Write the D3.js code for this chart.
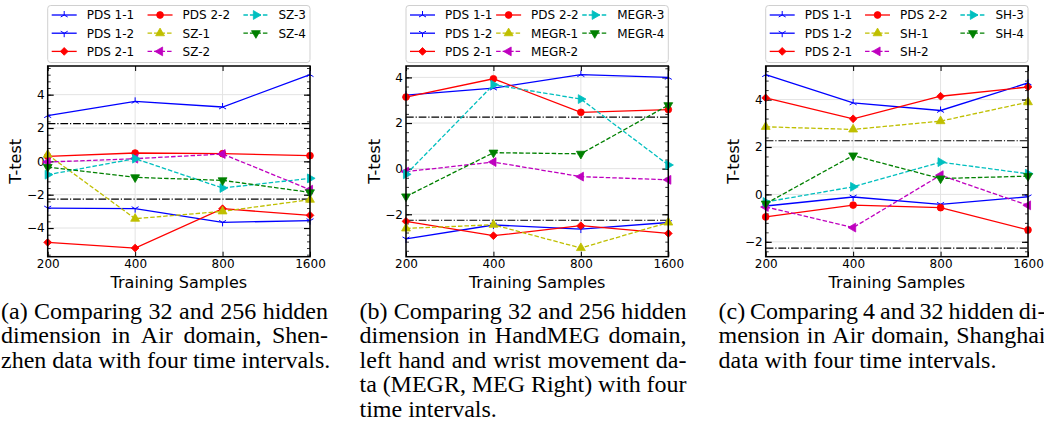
<!DOCTYPE html>
<html>
<head>
<meta charset="utf-8">
<script src="https://cdn.jsdelivr.net/npm/d3@7"></script>
<style>
  body { margin: 0; background: #fff; }
  svg { display: block; }
</style>
</head>
<body>
<svg id="chart"></svg>
<script>
// ---- data ----
const xTicks = [200, 400, 800, 1600];
const tCrit = 2.262;

const pdsNames = ['PDS 1-1', 'PDS 1-2', 'PDS 2-1', 'PDS 2-2'];
const szNames = ['SZ-1', 'SZ-2', 'SZ-3', 'SZ-4'];
const megrNames = ['MEGR-1', 'MEGR-2', 'MEGR-3', 'MEGR-4'];
const shNames = ['SH-1', 'SH-2', 'SH-3', 'SH-4'];

// one row per series, values at 200 / 400 / 800 / 1600 samples
const szValues = [
  [2.74, 3.60, 3.26, 5.20],
  [-2.80, -2.84, -3.66, -3.56],
  [-4.86, -5.20, -2.84, -3.24],
  [0.30, 0.50, 0.46, 0.34],
  [0.40, -3.44, -3.00, -2.30],
  [-0.04, 0.16, 0.44, -1.70],
  [-0.80, 0.16, -1.60, -1.02],
  [-0.34, -0.96, -1.14, -1.86]
];
const megrValues = [
  [3.22, 3.53, 4.12, 4.00],
  [-3.08, -2.47, -2.65, -2.36],
  [-2.31, -2.94, -2.50, -2.84],
  [3.14, 3.94, 2.47, 2.59],
  [-2.62, -2.46, -3.48, -2.36],
  [-0.13, 0.29, -0.35, -0.49],
  [-0.25, 3.68, 3.05, 0.16],
  [-1.22, 0.70, 0.65, 2.78]
];
const shValues = [
  [5.05, 3.86, 3.54, 4.70],
  [-0.49, -0.11, -0.42, -0.10],
  [4.07, 3.19, 4.14, 4.53],
  [-0.95, -0.45, -0.56, -1.50],
  [2.85, 2.74, 3.09, 3.89],
  [-0.53, -1.40, 0.81, -0.46],
  [-0.32, 0.32, 1.36, 0.87],
  [-0.39, 1.64, 0.67, 0.77]
];

const yTicksA = [-4, -2, 0, 2, 4];
const yTicksB = [-2, 0, 2, 4];
const yTicksC = [-2, 0, 2, 4];

const captions = [
  ['(a) Comparing 32 and 256 hidden', 'dimension in Air domain, Shen-', 'zhen data with four time intervals.'],
  ['(b) Comparing 32 and 256 hidden', 'dimension in HandMEG domain,', 'left hand and wrist movement da-',
   'ta (MEGR, MEG Right) with four', 'time intervals.'],
  ['(c) Comparing 4 and 32 hidden di-', 'mension in Air domain, Shanghai', 'data with four time intervals.']
];

// ---- styles ----
const colors = ['#0000ff', '#0000ff', '#ff0000', '#ff0000', '#bfbf00', '#bf00bf', '#00bfbf', '#008000'];
const markers = ['tri1', 'tri2', 'diamond', 'circle', 'up', 'left', 'right', 'down'];

const W = 1044, H = 432;
const plot = {top: 66, h: 190.7, w: 262.3};
const lefts = [47.7, 406, 765.7];
const sans = "'DejaVu Sans', sans-serif";

const svg = d3.select('#chart').attr('width', W).attr('height', H);

const panels = [
  {values: szValues, names: pdsNames.concat(szNames), yTicks: yTicksA},
  {values: megrValues, names: pdsNames.concat(megrNames), yTicks: yTicksB},
  {values: shValues, names: pdsNames.concat(shNames), yTicks: yTicksC}
];

function drawMarker(sel, type, color) {
  if (type === 'tri1' || type === 'tri2') {
    const s = type === 'tri1' ? 1 : -1;
    sel.append('path')
      .attr('d', `M0,0V${-4 * s}M0,0L3.5,${2 * s}M0,0L-3.5,${2 * s}`)
      .attr('stroke', color).attr('stroke-width', 1).attr('fill', 'none');
    return;
  }
  let sym, rot = 0, size = 34;
  if (type === 'circle') { sym = d3.symbolCircle; size = 36; }
  else if (type === 'diamond') { sym = d3.symbolSquare; rot = 45; size = 30; }
  else {
    sym = d3.symbolTriangle;
    rot = {up: 0, down: 180, left: -90, right: 90}[type];
  }
  sel.append('path')
    .attr('d', d3.symbol(sym, size)())
    .attr('transform', `rotate(${rot})`)
    .attr('fill', color).attr('stroke', color).attr('stroke-width', 0.8);
}

panels.forEach((p, pi) => {
  const g = svg.append('g').attr('transform', `translate(${lefts[pi]}, ${plot.top})`);

  const x = d3.scaleLog().base(2).domain([200, 1600]).range([0, plot.w]);
  const ext = d3.extent(p.values.flat().concat([tCrit, -tCrit]));
  const pad = (ext[1] - ext[0]) * 0.05;
  const y = d3.scaleLinear().domain([ext[0] - pad, ext[1] + pad]).range([plot.h, 0]);
  const minor = d3.range(Math.ceil((ext[0] - pad) / 0.4) * 0.4, ext[1] + pad, 0.4);

  // grid
  g.append('g').selectAll('line').data(xTicks).join('line')
    .attr('x1', d => x(d)).attr('x2', d => x(d))
    .attr('y1', 0).attr('y2', plot.h)
    .attr('stroke', '#e3e3e3').attr('stroke-width', 1);
  g.append('g').selectAll('line').data(p.yTicks).join('line')
    .attr('x1', 0).attr('x2', plot.w)
    .attr('y1', d => y(d)).attr('y2', d => y(d))
    .attr('stroke', '#e3e3e3').attr('stroke-width', 1);

  // axes
  const axB = g.append('g').attr('transform', `translate(0, ${plot.h})`)
    .call(d3.axisBottom(x).tickValues(xTicks).tickFormat(d3.format('d'))
      .tickSizeInner(-5).tickSizeOuter(0).tickPadding(3));
  const axT = g.append('g')
    .call(d3.axisTop(x).tickValues(xTicks).tickFormat('').tickSizeInner(-5).tickSizeOuter(0));
  const axL = g.append('g')
    .call(d3.axisLeft(y).tickValues(p.yTicks).tickFormat(d => d < 0 ? '\u2212' + Math.abs(d) : d)
      .tickSizeInner(-6).tickSizeOuter(0).tickPadding(3));
  const axR = g.append('g').attr('transform', `translate(${plot.w}, 0)`)
    .call(d3.axisRight(y).tickValues(p.yTicks).tickFormat('').tickSizeInner(-6).tickSizeOuter(0));
  const mL = g.append('g')
    .call(d3.axisLeft(y).tickValues(minor).tickFormat('').tickSizeInner(-3).tickSizeOuter(0));
  const mR = g.append('g').attr('transform', `translate(${plot.w}, 0)`)
    .call(d3.axisRight(y).tickValues(minor).tickFormat('').tickSizeInner(-3).tickSizeOuter(0));
  [axB, axT, axL, axR, mL, mR].forEach(a => {
    a.select('.domain').remove();
    a.selectAll('line').attr('stroke', '#000');
    a.selectAll('text').attr('font-family', sans).attr('font-size', 12).attr('fill', '#000');
  });
  axL.selectAll('line').attr('stroke-width', 1.2);
  axR.selectAll('line').attr('stroke-width', 1.2);
  mL.selectAll('line').attr('stroke-width', 0.8);
  mR.selectAll('line').attr('stroke-width', 0.8);

  // critical t lines
  g.append('g').selectAll('line').data([tCrit, -tCrit]).join('line')
    .attr('x1', 0).attr('x2', plot.w)
    .attr('y1', d => y(d)).attr('y2', d => y(d))
    .attr('stroke', '#000').attr('stroke-width', 1.2)
    .attr('stroke-dasharray', '7.7,1.9,1.2,1.9');

  // series
  const line = d3.line().x((d, i) => x(xTicks[i])).y(d => y(d));
  p.values.forEach((vals, si) => {
    g.append('path').datum(vals)
      .attr('d', line)
      .attr('fill', 'none')
      .attr('stroke', colors[si])
      .attr('stroke-width', 1.3)
      .attr('stroke-dasharray', si < 4 ? null : '4.5,2');
    vals.forEach((v, i) => {
      const mg = g.append('g').attr('transform', `translate(${x(xTicks[i])}, ${y(v)})`);
      drawMarker(mg, markers[si], colors[si]);
    });
  });

  // spines
  g.append('rect').attr('width', plot.w).attr('height', plot.h)
    .attr('fill', 'none').attr('stroke', '#000').attr('stroke-width', 1.5);

  // axis labels
  g.append('text').attr('x', plot.w / 2).attr('y', 287.5 - plot.top)
    .attr('text-anchor', 'middle').attr('font-family', sans).attr('font-size', 16)
    .text('Training Samples');
  g.append('text')
    .attr('transform', `translate(-32, ${plot.h / 2}) rotate(-90)`)
    .attr('text-anchor', 'middle').attr('dy', '0.35em')
    .attr('font-family', sans).attr('font-size', 16)
    .text('T-test');

  // legend (expanded across the axes width)
  const lg = svg.append('g').attr('transform', `translate(${lefts[pi]}, 5.5)`);
  lg.append('rect').attr('width', plot.w).attr('height', 57).attr('rx', 3)
    .attr('fill', '#fff').attr('stroke', '#d0d0d0').attr('stroke-width', 1);
  const cols = [[0, 1, 2], [3, 4, 5], [6, 7]];
  const items = cols.map(c => c.map(i => {
    const t = lg.append('text').attr('font-family', sans).attr('font-size', 12).text(p.names[i]);
    return {i, t, w: t.node().getComputedTextLength()};
  }));
  const colW = items.map(c => 35 + d3.max(c, d => d.w));
  const gap = (plot.w - 8 - d3.sum(colW)) / 2;
  let cx = 4;
  items.forEach((c, ci) => {
    c.forEach((it, ri) => {
      const cy = 9.5 + ri * 18.2;
      lg.append('line').attr('x1', cx).attr('x2', cx + 25).attr('y1', cy).attr('y2', cy)
        .attr('stroke', colors[it.i]).attr('stroke-width', 1.3)
        .attr('stroke-dasharray', it.i < 4 ? null : '4.5,2');
      drawMarker(lg.append('g').attr('transform', `translate(${cx + 12.5}, ${cy})`), markers[it.i], colors[it.i]);
      it.t.attr('x', cx + 35).attr('y', cy + 4.4);
    });
    cx += colW[ci] + gap;
  });
});

// captions, justified like the paper
const capLefts = [1, 359.5, 718.5];
const capWidth = 327;
captions.forEach((lines, ci) => {
  const cg = svg.append('g').attr('font-family', "'Liberation Serif', 'Times New Roman', serif")
    .attr('font-size', 24).attr('fill', '#000');
  lines.forEach((ln, li) => {
    const words = ln.split(' ');
    const by = 318.5 + li * 24.5;
    const ts = words.map(w => cg.append('text').attr('y', by).text(w));
    const ws = ts.map(t => t.node().getComputedTextLength());
    const last = li === lines.length - 1;
    const sp = last ? 6 : (capWidth - d3.sum(ws)) / (words.length - 1);
    let xx = capLefts[ci];
    ts.forEach((t, k) => { t.attr('x', xx); xx += ws[k] + sp; });
  });
});
</script>
</body>
</html>
